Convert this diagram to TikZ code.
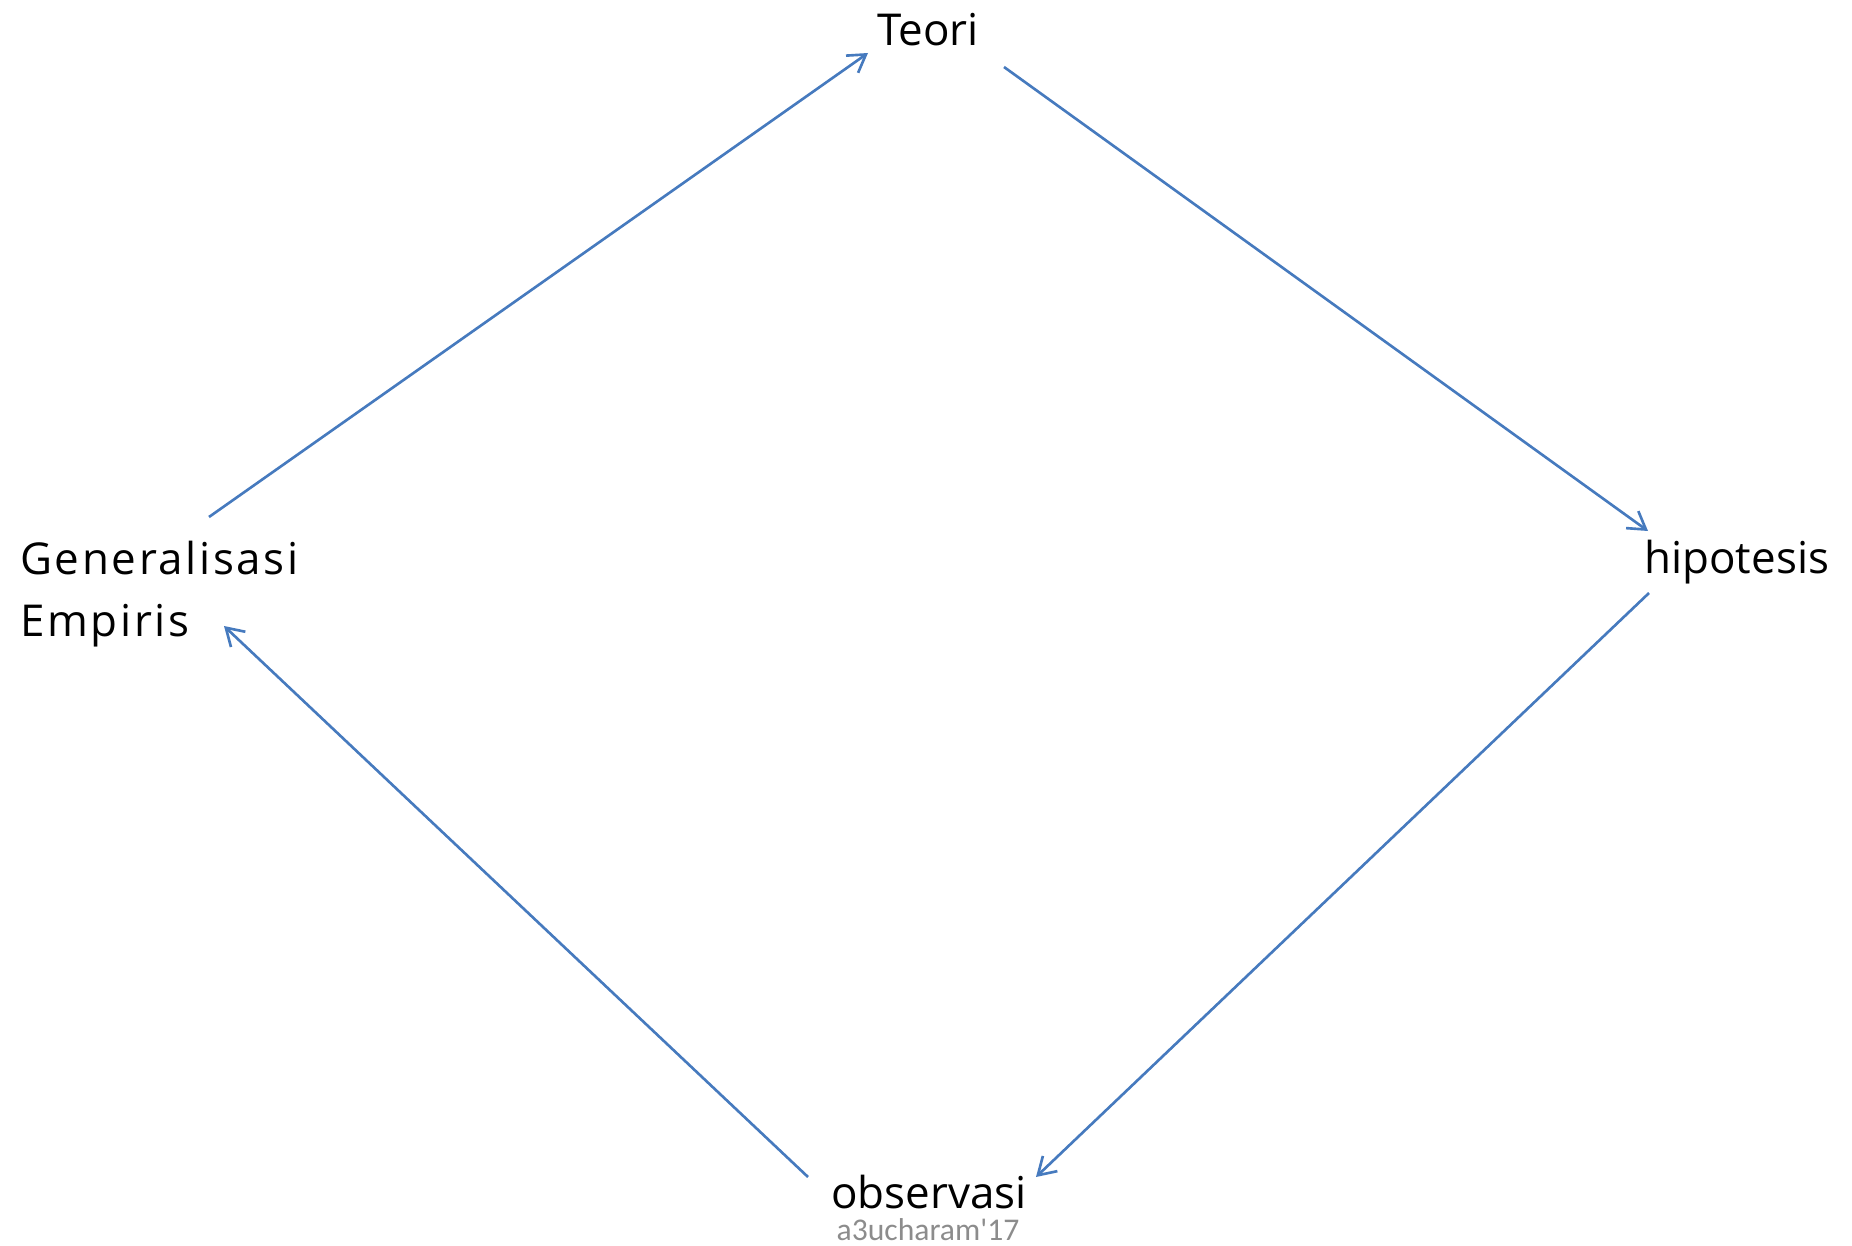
\documentclass[tikz,border=0pt]{standalone}
\usepackage{fontspec}
\setmainfont{Open Sans}
\newfontfamily\markfont{Carlito}
\newfontfamily\widefont[LetterSpace=6]{Open Sans}
\usetikzlibrary{arrows.meta}
\definecolor{flowblue}{RGB}{70,122,190}
\begin{document}
\begin{tikzpicture}[x=0.02cm,y=-0.02cm,
  lbl/.style={inner sep=0pt,font=\fontsize{25}{35}\selectfont},
  flow/.style={draw=flowblue,line width=1.5pt,-{Straight Barb[length=3.4mm,width=4.2mm,line width=1.5pt]}}]
\useasboundingbox (0,0) rectangle (1852,1246);
\node[lbl,anchor=base] (teori) at (928,46) {Teori};
\node[lbl,anchor=base west] (hip) at (1644,573) {hipotesis};
\node[lbl,anchor=base] (obs) at (929,1208) {observasi};
\node[lbl,anchor=west,align=left,font=\widefont\fontsize{25}{35}\selectfont] (gen) at (20,594) {Generalisasi\\Empiris};
\node[inner sep=0pt,anchor=base,text=black!45,font=\markfont\fontsize{18}{20}\selectfont] (mark) at (928,1240) {a3ucharam'17};
% siklus
\draw[flow] ([shift={(189,-77)}]gen.west) -- ([shift={(-60,7)}]teori.base);
\draw[flow] ([shift={(76,21)}]teori.base) -- ([shift={(4,-42)}]hip.base west);
\draw[flow] ([shift={(5,20)}]hip.base west) -- ([shift={(107,-31)}]obs.base);
\draw[flow] ([shift={(-121,-31)}]obs.base) -- ([shift={(204,32)}]gen.west);
\end{tikzpicture}
\end{document}
